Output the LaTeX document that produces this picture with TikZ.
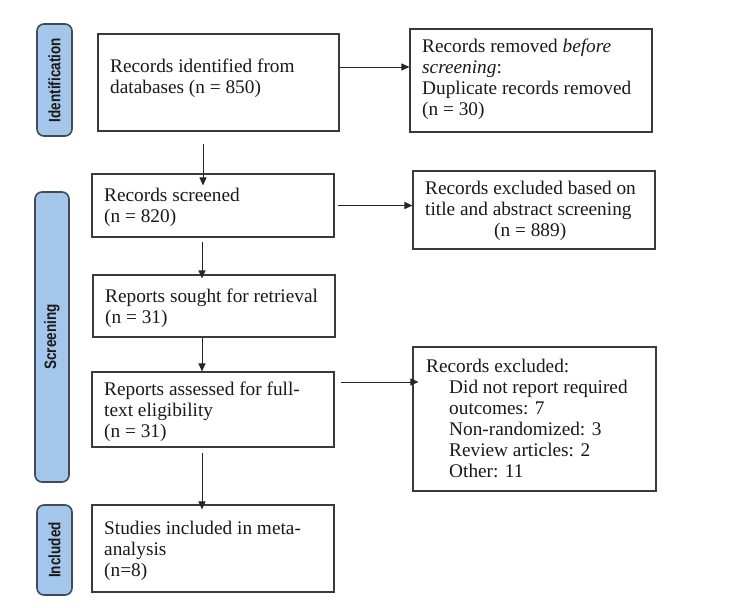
\documentclass[tikz,border=0pt]{standalone}
\usepackage{fontspec}
\setmainfont{Liberation Serif}
\newfontfamily\labelsans{Liberation Sans}
\usetikzlibrary{arrows.meta}
\definecolor{sidefill}{HTML}{A4C6EA}
\definecolor{sideline}{HTML}{3F4A5C}
\definecolor{boxline}{HTML}{3A3A3A}
\tikzset{
  sidelabel/.style={draw=sideline, fill=sidefill, line width=1.6pt, rounded corners=7pt, inner sep=0pt},
  sidetext/.style={rotate=90, font=\labelsans\bfseries\fontsize{16.5}{18}\selectfont, text=black!90, inner sep=0pt},
  flowbox/.style={draw=boxline, line width=1.1pt, inner sep=0pt},
  boxtext/.style={anchor=north west, align=left, inner sep=0pt, font=\fontsize{19.3}{21}\selectfont, text=black!90},
  arr/.style={draw=black!85, line width=0.9pt, -{Triangle[length=8pt,width=7pt]}}
}
\begin{document}
\begin{tikzpicture}[x=1pt,y=-1pt]
\useasboundingbox (0,0) rectangle (750,608);
% side labels
\node[sidelabel, minimum width=35pt, minimum height=112pt] (sid) at (54.5,80) {};
\node[sidetext] (sidt) at (sid.center) {\scalebox{0.82}[1]{Identification}};
\node[sidelabel, minimum width=34pt, minimum height=290pt] (ssc) at (52,337) {};
\node[sidetext] (ssct) at (ssc.center) {\scalebox{0.82}[1]{Screening}};
\node[sidelabel, minimum width=35pt, minimum height=90pt] (sin) at (54.5,550) {};
\node[sidetext] (sint) at (sin.center) {\scalebox{0.82}[1]{Included}};
% boxes
\node[flowbox, minimum width=241pt, minimum height=97pt] (b1) at (218.5,82.5) {};
\node[flowbox, minimum width=242pt, minimum height=103pt] (r1) at (531,80.5) {};
\node[flowbox, minimum width=242pt, minimum height=63pt] (b2) at (213,205.5) {};
\node[flowbox, minimum width=242pt, minimum height=78pt] (r2) at (534,210) {};
\node[flowbox, minimum width=242pt, minimum height=62pt] (b3) at (214,306) {};
\node[flowbox, minimum width=242pt, minimum height=75pt] (b4) at (213,409.5) {};
\node[flowbox, minimum width=243pt, minimum height=144pt] (r3) at (534.5,419) {};
\node[flowbox, minimum width=242pt, minimum height=87pt] (b5) at (213,548.5) {};
% texts
\node[boxtext] (t1) at (110,57.3) {\strut Records identified from\\databases (n = 850)};
\node[boxtext] (tr1) at (422,37.3) {\strut Records removed \textit{before}\\\textit{screening}:\\Duplicate records removed\\(n = 30)};
\node[boxtext] (t2) at (104,186.3) {\strut Records screened\\(n = 820)};
\node[boxtext] (tr2) at (425,179.3) {\strut Records excluded based on\\title and abstract screening\\\hspace*{69pt}(n = 889)};
\node[boxtext] (t3) at (105,287.3) {\strut Reports sought for retrieval\\(n = 31)};
\node[boxtext] (t4) at (104,380.3) {\strut Reports assessed for full-\\text eligibility\\(n = 31)};
\node[boxtext] (tr3) at (426,357.3) {\strut Records excluded:\\\hspace*{23pt}Did not report required\\\hspace*{23pt}outcomes: 7\\\hspace*{23pt}Non-randomized: 3\\\hspace*{23pt}Review articles: 2\\\hspace*{23pt}Other: 11};
\node[boxtext] (t5) at (104,519.3) {\strut Studies included in meta-\\analysis\\(n=8)};
% arrows
\draw[arr] ([yshift=15.5pt]b1.east) -- ([yshift=15.5pt]b1.east -| r1.west);
\draw[arr] ([xshift=-15.5pt,yshift=-12pt]b1.south) -- ([xshift=-15.5pt,yshift=-12pt]b1.south |- b2.north);
\draw[arr] ([xshift=3pt]b2.east) -- (b2.east -| r2.west);
\draw[arr] ([xshift=-11pt,yshift=-4pt]b2.south) -- ([xshift=-11pt,yshift=-4pt]b2.south |- b3.north);
\draw[arr] ([xshift=-12pt]b3.south) -- ([xshift=-12pt]b3.south |- b4.north);
\draw[arr] ([xshift=6pt,yshift=27.5pt]b4.east) -- ([xshift=6pt,yshift=27.5pt]b4.east -| r3.west);
\draw[arr] ([xshift=-11pt,yshift=-5pt]b4.south) -- ([xshift=-11pt,yshift=-5pt]b4.south |- b5.north);
\end{tikzpicture}
\end{document}
